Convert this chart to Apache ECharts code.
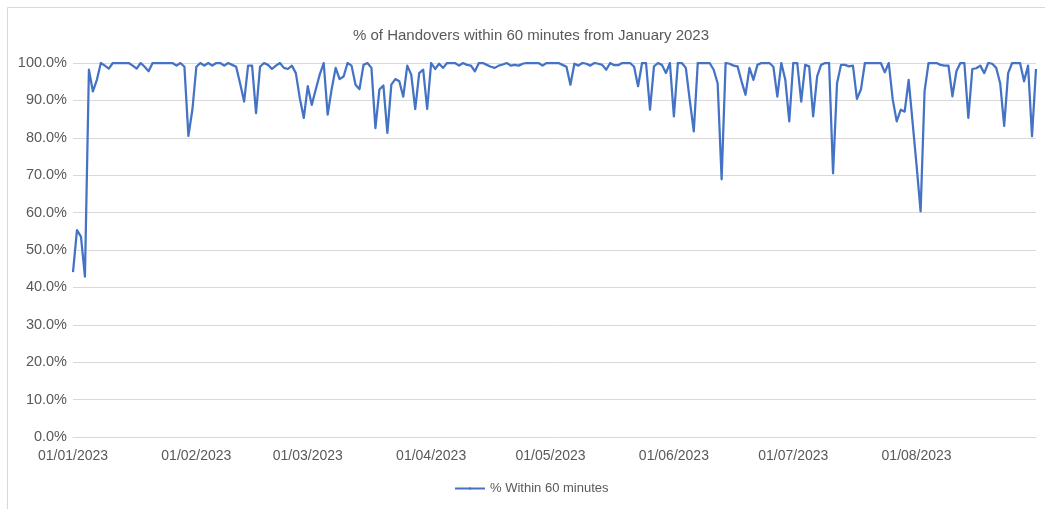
<!DOCTYPE html>
<html>
<head>
<meta charset="utf-8">
<title>% of Handovers within 60 minutes</title>
<script src="https://cdn.jsdelivr.net/npm/echarts@6/dist/echarts.min.js"></script>
<style>
  html, body { margin: 0; padding: 0; background: #ffffff; }
  #chart { width: 1045px; height: 509px; }
</style>
</head>
<body>
<div id="chart"></div>
<script>
// Daily share of handovers completed within 60 minutes, 01/01/2023 – 31/08/2023
const startDate = [2023, 0, 1];
const tickLabels = ['01/01/2023', '01/02/2023', '01/03/2023', '01/04/2023',
                    '01/05/2023', '01/06/2023', '01/07/2023', '01/08/2023'];
const seriesName = '% Within 60 minutes';

const janValues = [44.1, 55.3, 53.6, 42.9, 98.2, 92.4, 95.5, 100, 99.3, 98.5,
                   100, 100, 100, 100, 100, 99.3, 98.5, 100, 99, 97.8,
                   100, 100, 100, 100, 100, 100, 99.3, 100, 99, 80.5, 87.5];
const febValues = [99, 100, 99.3, 100, 99.3, 100, 100, 99.3, 100, 99.5,
                   99, 94.5, 89.7, 99.3, 99.3, 86.6, 99, 100, 99.5, 98.4,
                   99.3, 100, 98.7, 98.4, 99.3, 97.3, 90.6, 85.3];
const marValues = [93.8, 88.8, 92.9, 96.9, 100, 86.2, 93, 98.7, 95.7, 96.4,
                   100, 99.3, 94.2, 93, 99.5, 100, 98.7, 82.6, 92.9, 94,
                   81.3, 94.2, 95.7, 95.1, 91, 99.3, 96.9, 87.7, 97.3, 98.2, 87.7];
const aprValues = [100, 98.4, 99.8, 98.7, 100, 100, 100, 99.3, 100, 99.5,
                   99.3, 97.8, 100, 100, 99.5, 99, 98.7, 99.3, 99.6, 100,
                   99.3, 99.5, 99.3, 99.8, 100, 100, 100, 100, 99.3, 100];
const mayValues = [100, 100, 100, 99.5, 99, 94.2, 99.8, 99.3, 100, 99.8,
                   99.3, 100, 99.8, 99.5, 98.2, 100, 99.4, 99.4, 100, 100,
                   100, 99, 93.8, 100, 100, 87.5, 99.1, 100, 99.5, 97.3, 100];
const junValues = [85.7, 100, 100, 98.7, 90, 81.7, 100, 100, 100, 100,
                   98.2, 94.6, 68.9, 100, 99.8, 99.3, 99.1, 95.1, 91.5, 98.7,
                   95.5, 99.5, 100, 100, 100, 99, 91, 100, 95.5, 84.4];
const julValues = [100, 100, 89.7, 99.5, 99.1, 85.7, 96.4, 99.5, 100, 100,
                   70.5, 94.6, 99.5, 99.5, 99.1, 99.3, 90.4, 92.9, 100, 100,
                   100, 100, 100, 97.5, 100, 90.2, 84.4, 87.5, 87, 95.5, 84];
const augValues = [72.5, 60.3, 92.5, 100, 100, 100, 99.5, 99.3, 99.3, 91.1,
                   97.8, 100, 100, 85.3, 98.4, 98.6, 99.3, 97.3, 100, 99.8,
                   98.7, 94.6, 83.2, 97.3, 100, 100, 100, 95.1, 99.3, 80.4, 98.4];

const values = [].concat(janValues, febValues, marValues, aprValues,
                         mayValues, junValues, julValues, augValues);

// one category per day, written as dd/mm/yyyy
function pad(n) { return (n < 10 ? '0' : '') + n; }
const dates = values.map(function (_, i) {
  const d = new Date(startDate[0], startDate[1], startDate[2] + i);
  return pad(d.getDate()) + '/' + pad(d.getMonth() + 1) + '/' + d.getFullYear();
});

const textColor = '#595959';
const gridColor = '#d9d9d9';
const fontFamily = "'Liberation Sans', Arial, sans-serif";

const chart = echarts.init(document.getElementById('chart'), null, { renderer: 'canvas' });
chart.setOption({
  animation: false,
  backgroundColor: '#ffffff',
  graphic: [{
    type: 'rect',
    shape: { x: 7.5, y: 7.5, width: 1100, height: 600 },
    style: { fill: 'none', stroke: gridColor, lineWidth: 1 },
    silent: true
  }],
  title: {
    text: '% of Handovers within 60 minutes from January 2023',
    left: 348,
    top: 23,
    textStyle: { fontFamily: fontFamily, fontSize: 15, fontWeight: 'normal', color: textColor }
  },
  legend: {
    bottom: 9,
    left: 449,
    itemWidth: 30,
    itemHeight: 3,
    itemGap: 8,
    textStyle: { fontFamily: fontFamily, fontSize: 13, color: textColor },
    data: [seriesName]
  },
  grid: { left: 73, right: 9, top: 63, bottom: 72, containLabel: false },
  xAxis: {
    type: 'category',
    data: dates,
    boundaryGap: false,
    axisLine: { lineStyle: { color: gridColor, width: 1 } },
    axisTick: { show: false },
    splitLine: { show: false },
    axisLabel: {
      interval: function (idx, val) { return tickLabels.indexOf(val) !== -1; },
      margin: 12,
      color: textColor,
      fontFamily: fontFamily,
      fontSize: 14
    }
  },
  yAxis: {
    type: 'value',
    min: 0,
    max: 100,
    interval: 10,
    axisLine: { show: false },
    axisTick: { show: false },
    splitLine: { lineStyle: { color: gridColor, width: 1 } },
    axisLabel: {
      formatter: function (v) { return v.toFixed(1) + '%'; },
      margin: 6,
      color: textColor,
      fontFamily: fontFamily,
      fontSize: 14.5
    }
  },
  series: [{
    name: seriesName,
    type: 'line',
    data: values,
    symbol: 'none',
    smooth: false,
    lineStyle: { color: '#4472C4', width: 2.25, join: 'round' },
    itemStyle: { color: '#4472C4' }
  }]
});
</script>
</body>
</html>
